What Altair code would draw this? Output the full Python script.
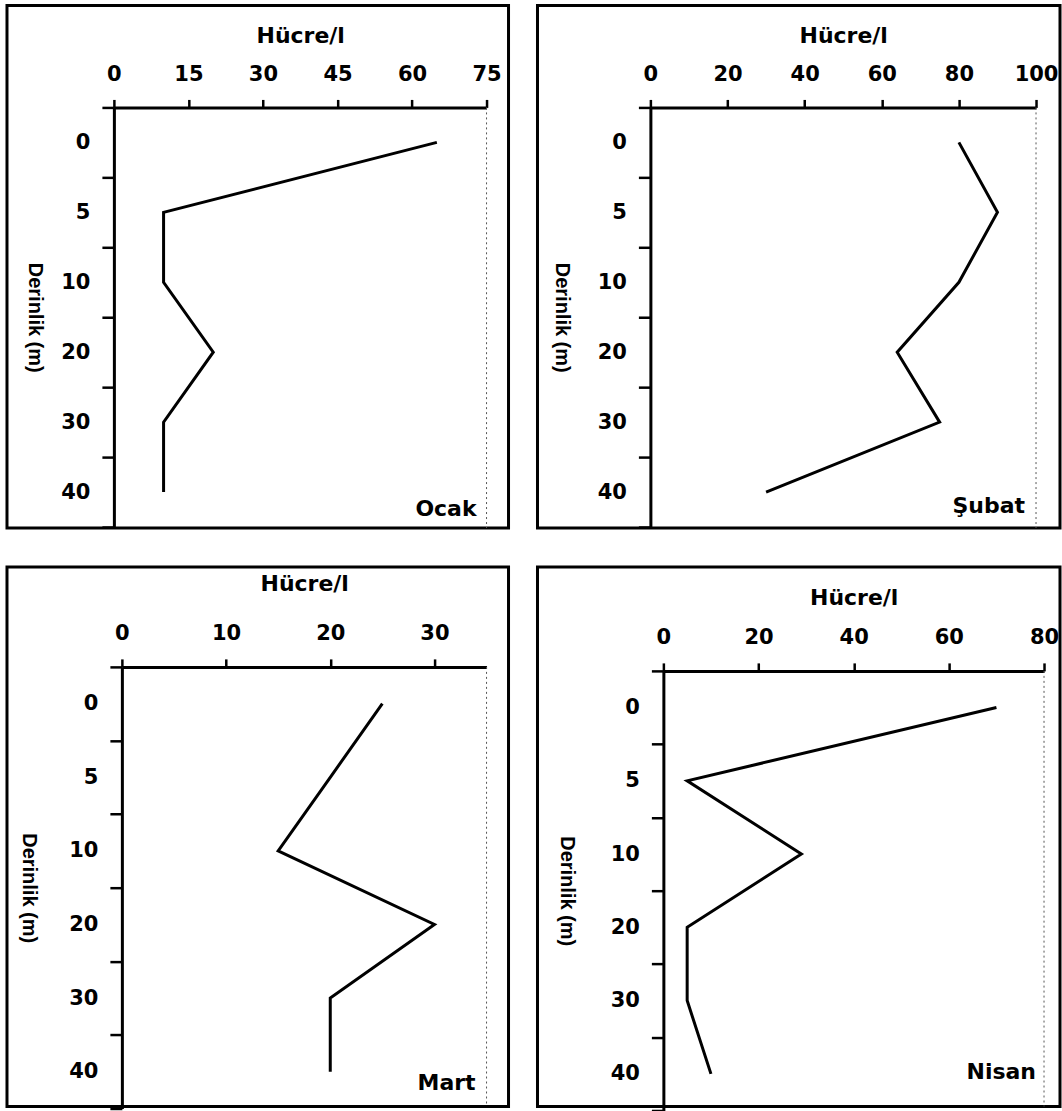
import altair as alt
import pandas as pd

# Sampling depths (m), drawn as equal-height bands from the surface downwards
DEPTHS = ["0", "5", "10", "20", "30", "40"]

# Cell counts (Hücre/l) per depth for each month
OCAK = [65, 10, 10, 20, 10, 10]
SUBAT = [80, 90, 80, 64, 75, 30]
MART = [25, 20, 15, 30, 20, 20]
NISAN = [70, 5, 29, 5, 5, 10]

MONTHS = ["Ocak", "Şubat", "Mart", "Nisan"]
X_MAX = [75, 100, 35, 80]
X_TICKS = [
    [0, 15, 30, 45, 60, 75],
    [0, 20, 40, 60, 80, 100],
    [0, 10, 20, 30],
    [0, 20, 40, 60, 80],
]

X_TITLE = "Hücre/l"
Y_TITLE = "Derinlik (m)"

# Framed panel size and inner plotting geometry (pixels inside each frame)
LAYOUT = [
    dict(w=502, h=523, x0=107, x1=480, y0=102, y1=522, ty=30, yt=28, ldx=-10, ldy=17),
    dict(w=523, h=523, x0=113, x1=499, y0=102, y1=522, ty=30, yt=24, ldx=-11, ldy=14),
    dict(w=502, h=540, x0=115, x1=480, y0=100, y1=542, ty=17, yt=22, ldx=-11, ldy=11),
    dict(w=523, h=540, x0=126, x1=507, y0=104, y1=544, ty=31, yt=29, ldx=-8, ldy=-2),
]


def panel(values, month, xmax, xticks, lay):
    xs = alt.Scale(domain=[0, xmax], range=[lay["x0"], lay["x1"]], nice=False, zero=False)
    ys = alt.Scale(type="band", domain=DEPTHS, range=[lay["y0"], lay["y1"]],
                   paddingInner=0, paddingOuter=0)

    x_axis = alt.Axis(
        orient="top", values=xticks, offset=-lay["y0"],
        title=X_TITLE, titleX=(lay["x0"] + lay["x1"]) / 2, titleY=lay["ty"] - lay["y0"],
        titleAlign="center", titleBaseline="middle",
        tickSize=8, labelPadding=15, labelFlush=False, labelOverlap=False, grid=False,
    )
    y_axis = alt.Axis(
        orient="left", offset=-lay["x0"],
        title=Y_TITLE, titleAngle=90, titleX=lay["yt"] - lay["x0"],
        titleY=(lay["y0"] + lay["y1"]) / 2, titleAlign="center", titleBaseline="middle",
        tickBand="extent", tickSize=12, labelPadding=12, labelAngle=0, grid=False,
    )

    profile = pd.DataFrame({"derinlik": DEPTHS, "hucre": values})
    line = alt.Chart(profile).mark_line(color="black", strokeWidth=3).encode(
        x=alt.X("hucre:Q", scale=xs, axis=x_axis),
        y=alt.Y("derinlik:O", scale=ys, axis=y_axis, sort=DEPTHS),
        order=alt.Order("sira:Q"),
    ).transform_window(sira="row_number()")

    # the right edge of the value range, and the month name in the lower right corner
    edge_df = pd.DataFrame({"hucre": [xmax], "derinlik": ["40"], "ay": [month]})
    edge = alt.Chart(edge_df).mark_rule(
        color="#555555", strokeWidth=1, strokeDash=[2, 3]
    ).encode(
        x=alt.X("hucre:Q", scale=xs),
        y=alt.value(lay["y0"]),
        y2=alt.value(lay["h"]),
    )
    label = alt.Chart(edge_df).mark_text(
        align="right", baseline="middle", font="DejaVu Sans", fontWeight="bold",
        fontSize=22, color="black", dx=lay["ldx"], dy=lay["ldy"],
    ).encode(
        x=alt.X("hucre:Q", scale=xs),
        y=alt.Y("derinlik:O", scale=ys, sort=DEPTHS),
        text="ay:N",
    )
    return alt.layer(line, edge, label).properties(width=lay["w"], height=lay["h"])


panels = [
    panel(vals, m, xm, xt, lay)
    for vals, m, xm, xt, lay in zip([OCAK, SUBAT, MART, NISAN], MONTHS, X_MAX, X_TICKS, LAYOUT)
]

chart = alt.vconcat(
    alt.hconcat(panels[0], panels[1], spacing=25),
    alt.hconcat(panels[2], panels[3], spacing=25),
    spacing=24,
).properties(
    padding={"left": 5, "top": -8, "right": 0, "bottom": 0},
    background="white",
).configure_view(
    stroke="black", strokeWidth=3,
).configure_axis(
    domainColor="black", domainWidth=3,
    tickColor="black", tickWidth=2.5,
    labelColor="black", titleColor="black",
    labelFont="DejaVu Sans", labelFontWeight="bold", labelFontSize=21,
    grid=False,
).configure_axisX(
    titleFont="DejaVu Sans", titleFontWeight="bold", titleFontSize=22,
).configure_axisY(
    titleFont="Liberation Sans", titleFontWeight="bold", titleFontSize=20,
)

chart.save("out.html", embed_options={"renderer": "svg", "actions": False})
